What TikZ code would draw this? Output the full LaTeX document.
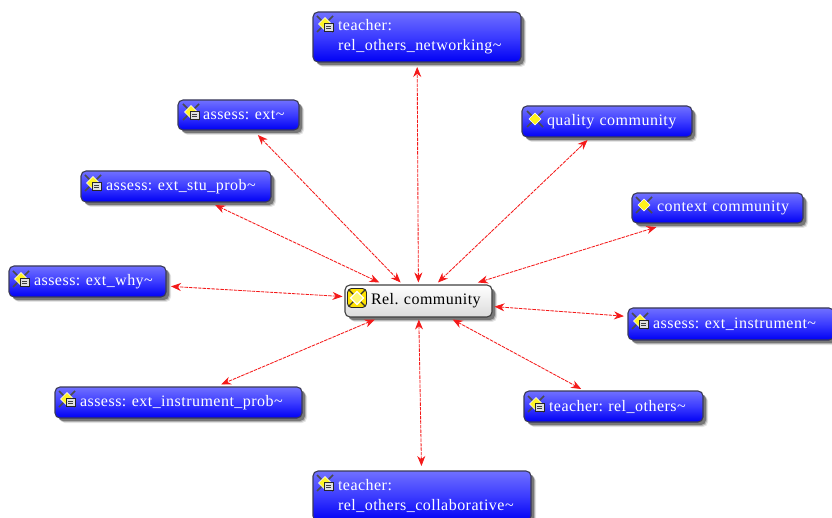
\documentclass[tikz,border=0pt]{standalone}
\usepackage{fontspec}
\setmainfont[LetterSpace=3,WordSpace=0.7]{Liberation Serif}
\usetikzlibrary{shadows,arrows.meta}
\definecolor{edgered}{HTML}{F41A1A}
\definecolor{boxedge}{HTML}{3A3A55}
\definecolor{boxtop}{HTML}{7070FF}
\definecolor{boxmid}{HTML}{3C3CFF}
\definecolor{boxlow}{HTML}{0000F4}
\tikzset{
  softshadow/.style={
    drop shadow={shadow xshift=5pt,shadow yshift=-5pt,fill=black,opacity=.10},
    drop shadow={shadow xshift=4pt,shadow yshift=-4pt,fill=black,opacity=.20},
    drop shadow={shadow xshift=3pt,shadow yshift=-3pt,fill=black,opacity=.35}},
  bluebox/.style n args={3}{softshadow,rounded corners=5pt,draw=boxedge,line width=1.1pt,
    top color=boxtop,bottom color=boxlow,middle color=boxmid,
    minimum width=#1 pt,minimum height=#2 pt,text width=#1 pt-12pt,inner xsep=6pt,inner ysep=0pt,
    outer sep=#3 pt,align=left,text=white,font=\fontsize{16}{20}\selectfont\frenchspacing},
  hubbox/.style={softshadow,rounded corners=5pt,draw=black!75,line width=1.1pt,
    top color=white,bottom color=black!14,minimum width=147pt,minimum height=32pt,
    text width=135pt,inner xsep=6pt,inner ysep=0pt,outer sep=2.5pt,align=left,
    font=\fontsize{16}{20}\selectfont\frenchspacing},
  link/.style={draw=edgered,line width=.85pt,dash pattern=on 3.5pt off 1pt,
    {Stealth[length=10pt,width=8pt]}-{Stealth[length=10pt,width=8pt]}},
  sparks/.pic={
    \draw[black!70,line width=1.6pt] (-8,-8) -- (8,8) (-8,8) -- (8,-8);
    \fill[yellow!90!white,draw=white,line width=.6pt] (0,-6) -- (6,0) -- (0,6) -- (-6,0) -- cycle;},
  noteicon/.pic={
    \draw[black!70,line width=1.6pt] (-8,-8) -- (8,8) (-8,8) -- (8,-8);
    \fill[yellow!85!white,draw=white,line width=.4pt] (0,-6.5) -- (6.5,0) -- (0,6.5) -- (-6.5,0) -- cycle;
    \fill[black!12,draw=black!85,line width=.9pt] (-1,-.5) rectangle (8,7);
    \draw[black!75,line width=.7pt] (1,2) -- (6,2) (1,4.5) -- (6,4.5);},
  hubicon/.pic={
    \fill[yellow!85!orange,draw=black!85,line width=.9pt,rounded corners=4pt] (-9.5,-9.5) rectangle (9.5,9.5);
    \draw[black!80,line width=1.4pt] (-8,-8) -- (8,8) (-8,8) -- (8,-8);
    \fill[yellow!55!white,draw=white,line width=1.2pt] (0,-6.5) -- (6.5,0) -- (0,6.5) -- (-6.5,0) -- cycle;}
}
\newcommand{\ind}{\hspace*{19pt}}
\begin{document}
\begin{tikzpicture}[x=1pt,y=-1pt]
\useasboundingbox (0,0) rectangle (832,518);
\clip (0,0) rectangle (832,518);
\node[hubbox] (hub) at (418.5,301) {\hspace*{20pt}Rel. community};
\node[bluebox={208}{50}{5}] (net) at (417,37) {\ind teacher:\\\ind rel\_others\_networking\textasciitilde};
\node[bluebox={121}{30}{5}] (ext) at (238.5,115) {\ind assess: ext\textasciitilde};
\node[bluebox={170}{31}{3}] (qual) at (607,121.5) {\ind quality community};
\node[bluebox={190}{31}{3}] (stu) at (176,186.5) {\ind assess: ext\_stu\_prob\textasciitilde};
\node[bluebox={171}{30}{4}] (ctx) at (717.5,208) {\ind context community};
\node[bluebox={157}{31}{5}] (why) at (87.5,281.5) {\ind assess: ext\_why\textasciitilde};
\node[bluebox={206}{32}{4}] (inst) at (731,324) {\ind assess: ext\_instrument\textasciitilde};
\node[bluebox={179}{31}{2}] (rel) at (613.5,406.5) {\ind teacher: rel\_others\textasciitilde};
\node[bluebox={247}{31}{2.5}] (prob) at (178.5,402.5) {\ind assess: ext\_instrument\_prob\textasciitilde};
\node[bluebox={218}{50}{5}] (col) at (422,496) {\ind teacher:\\\ind rel\_others\_collaborative\textasciitilde};
\foreach \n in {net,ext,qual,stu,ctx,why,inst,rel,prob,col}
  \draw[link] (hub) -- (\n);
\pic at (325,24) {noteicon};
\pic at (191,112) {noteicon};
\pic at (535,119) {sparks};
\pic at (93,183) {noteicon};
\pic at (644,205) {sparks};
\pic at (21,279) {noteicon};
\pic at (640,321) {noteicon};
\pic at (536,404) {noteicon};
\pic at (67,399) {noteicon};
\pic at (325,483) {noteicon};
\pic at (357,298) {hubicon};
\end{tikzpicture}
\end{document}
